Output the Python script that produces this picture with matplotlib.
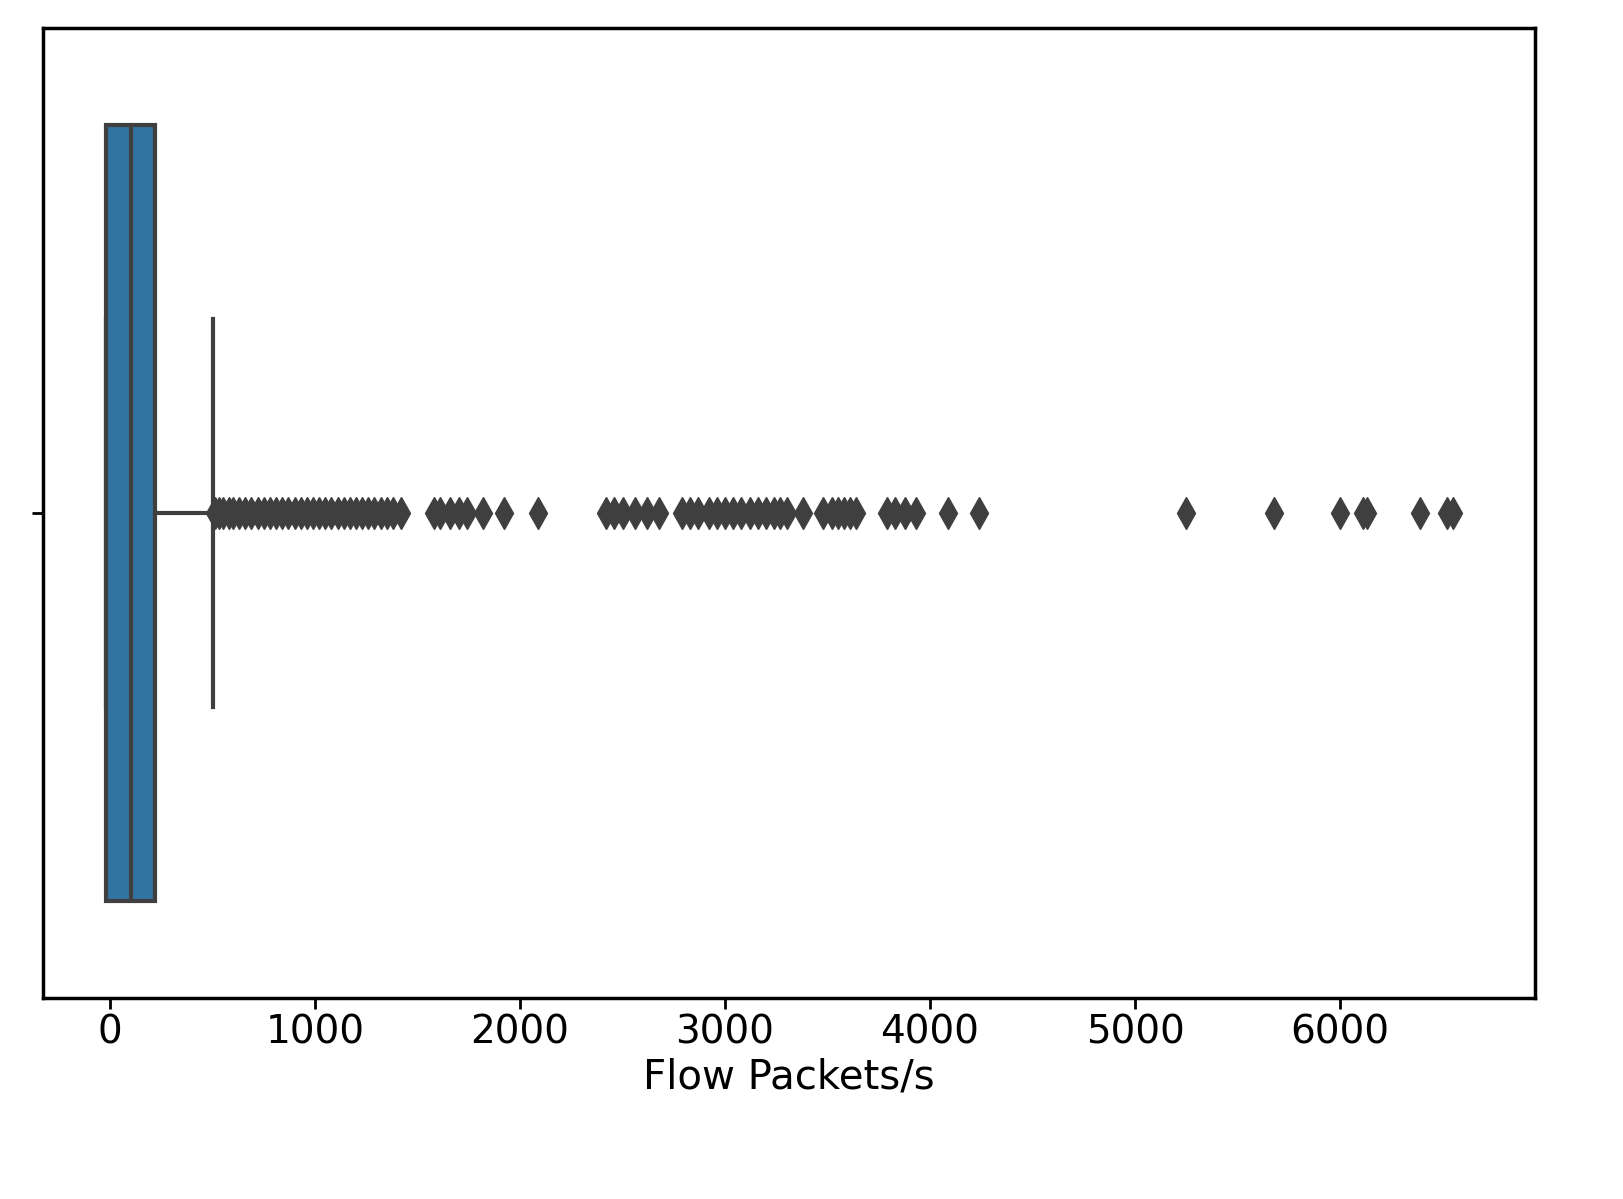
import matplotlib
matplotlib.use("Agg")
import matplotlib.pyplot as plt

xlabel = "Flow Packets/s"
q1, med, q3 = -20, 100, 220
whislo, whishi = -20, 500
fliers = [510, 530, 550, 580, 600, 630, 660, 690, 720, 750, 780, 810, 840, 870, 900,
          930, 960, 990, 1020, 1050, 1080, 1110, 1140, 1170, 1200, 1230, 1260, 1290,
          1320, 1350, 1380, 1420, 1580, 1610, 1660, 1700, 1740, 1820, 1920, 2090,
          2420, 2460, 2500, 2560, 2620, 2680, 2790, 2830, 2870, 2920, 2960, 3000,
          3040, 3080, 3120, 3160, 3200, 3240, 3270, 3300, 3380, 3480, 3520, 3550,
          3580, 3610, 3640, 3790, 3830, 3880, 3930, 4090, 4240, 5250, 5680, 6000,
          6110, 6130, 6390, 6520, 6550]

fig = plt.figure(figsize=(16.24, 11.99), dpi=100)
ax = fig.add_axes([43/1624, 1-998/1199, (1535-43)/1624, (998-28)/1199])
stats = [dict(med=med, q1=q1, q3=q3, whislo=whislo, whishi=whishi, fliers=fliers)]
ax.bxp(stats, vert=False, widths=0.8, patch_artist=True,
       boxprops=dict(facecolor="#3274a1", edgecolor="#3f3f3f", linewidth=3),
       medianprops=dict(color="#3f3f3f", linewidth=3),
       whiskerprops=dict(color="#3f3f3f", linewidth=3),
       capprops=dict(color="#3f3f3f", linewidth=3),
       flierprops=dict(marker="d", markersize=16, markerfacecolor="#3f3f3f",
                       markeredgecolor="#3f3f3f"),
       capwidths=0.4)
ax.set_xlim(-327, 6951)
ax.set_ylim(1.5, 0.5)
ax.set_yticks([1])
ax.set_yticklabels([""])
ax.set_xticks([0, 1000, 2000, 3000, 4000, 5000, 6000])
ax.tick_params(labelsize=28, width=2, length=8)
for s in ax.spines.values():
    s.set_linewidth(2.5)
ax.set_xlabel(xlabel, fontsize=29)
fig.savefig("out.png", dpi=100)
